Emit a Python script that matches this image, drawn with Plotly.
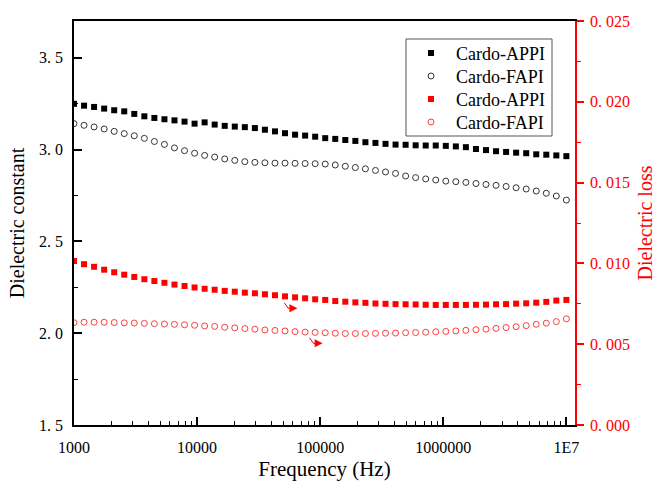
import plotly.graph_objects as go

# ---------------- data ----------------
freq = [1000, 1207, 1456, 1758, 2121, 2560, 3089, 3728, 4498, 5429,
        6551, 7906, 9541, 11514, 13895, 16768, 20236, 24421, 29471, 35565,
        42919, 51795, 62506, 75431, 91030, 109854, 132571, 159986, 193070, 232995,
        281177, 339322, 409492, 494171, 596362, 719686, 868511, 1048113, 1264855, 1526418,
        1842070, 2222996, 2682696, 3237458, 3906940, 4714866, 5689866, 6866488, 8286428, 10000000]

eps_appi = [3.249, 3.239, 3.232, 3.223, 3.214, 3.208, 3.194, 3.181, 3.172, 3.165,
            3.159, 3.152, 3.141, 3.148, 3.136, 3.129, 3.125, 3.122, 3.117, 3.108,
            3.099, 3.089, 3.081, 3.076, 3.070, 3.062, 3.058, 3.052, 3.047, 3.040,
            3.036, 3.031, 3.027, 3.026, 3.023, 3.022, 3.022, 3.020, 3.017, 3.013,
            3.003, 2.997, 2.991, 2.987, 2.983, 2.980, 2.974, 2.972, 2.968, 2.964]

eps_fapi = [3.141, 3.132, 3.123, 3.112, 3.099, 3.087, 3.075, 3.061, 3.044, 3.028,
            3.009, 2.994, 2.980, 2.968, 2.959, 2.949, 2.941, 2.934, 2.930, 2.928,
            2.926, 2.926, 2.925, 2.924, 2.923, 2.921, 2.916, 2.909, 2.902, 2.895,
            2.886, 2.878, 2.870, 2.856, 2.847, 2.840, 2.834, 2.828, 2.825, 2.821,
            2.815, 2.810, 2.805, 2.799, 2.792, 2.785, 2.774, 2.762, 2.747, 2.725]

loss_appi = [0.01015, 0.00995, 0.00979, 0.00961, 0.00945, 0.00930, 0.00916, 0.00902, 0.00891, 0.00880,
             0.00869, 0.00860, 0.00851, 0.00843, 0.00837, 0.00830, 0.00825, 0.00819, 0.00815, 0.00809,
             0.00803, 0.00796, 0.00790, 0.00784, 0.00778, 0.00774, 0.00767, 0.00763, 0.00759, 0.00756,
             0.00752, 0.00750, 0.00748, 0.00747, 0.00746, 0.00744, 0.00743, 0.00743, 0.00743, 0.00743,
             0.00744, 0.00745, 0.00747, 0.00748, 0.00751, 0.00753, 0.00757, 0.00762, 0.00770, 0.00774]

loss_fapi = [0.00633, 0.00636, 0.00636, 0.00636, 0.00634, 0.00632, 0.00631, 0.00629, 0.00627, 0.00625,
             0.00623, 0.00620, 0.00617, 0.00613, 0.00610, 0.00605, 0.00601, 0.00597, 0.00593, 0.00588,
             0.00585, 0.00582, 0.00578, 0.00575, 0.00573, 0.00571, 0.00568, 0.00566, 0.00566, 0.00566,
             0.00567, 0.00568, 0.00569, 0.00571, 0.00572, 0.00574, 0.00577, 0.00579, 0.00582, 0.00586,
             0.00590, 0.00593, 0.00598, 0.00603, 0.00608, 0.00615, 0.00623, 0.00630, 0.00640, 0.00657]

series_names = ["Cardo-APPI", "Cardo-FAPI", "Cardo-APPI", "Cardo-FAPI"]

x_tickvals = [1e3, 1e4, 1e5, 1e6, 1e7]
x_ticktext = ["1000", "10000", "100000", "1000000", "1E7"]
x_minor = [m * 10 ** d for d in range(3, 7) for m in range(2, 10)]
y_tickvals = [1.5, 2.0, 2.5, 3.0, 3.5]
y_ticktext = ["1.\u00a05", "2.\u00a00", "2.\u00a05", "3.\u00a00", "3.\u00a05"]
y2_tickvals = [0.0, 0.005, 0.010, 0.015, 0.020, 0.025]
y2_ticktext = ["0.\u00a0000", "0.\u00a0005", "0.\u00a0010", "0.\u00a0015", "0.\u00a0020", "0.\u00a0025"]

FONT = "Liberation Serif"
RED = "#ff0000"

# plot-area geometry (pixels) used for paper coordinates of legend pieces
L, R, T, B = 74, 575, 21, 425
PW, PH = R - L, B - T


def px_x(p):
    return (p - L) / PW


def px_y(p):
    return (B - p) / PH


legend_rows = [53.3, 76.3, 99.3, 122.3]

fig = go.Figure()
fig.add_trace(go.Scatter(x=freq, y=eps_appi, mode="markers", name=series_names[0],
                         marker=dict(symbol="square", size=6, color="black"),
                         yaxis="y", legend="legend"))
fig.add_trace(go.Scatter(x=freq, y=eps_fapi, mode="markers", name=series_names[1],
                         marker=dict(symbol="circle-open", size=6, color="#333333",
                                     line=dict(width=1)), yaxis="y", legend="legend2"))
fig.add_trace(go.Scatter(x=freq, y=loss_appi, mode="markers", name=series_names[2],
                         marker=dict(symbol="square", size=6, color=RED),
                         yaxis="y2", legend="legend3"))
fig.add_trace(go.Scatter(x=freq, y=loss_fapi, mode="markers", name=series_names[3],
                         marker=dict(symbol="circle-open", size=6, color="#ff3b3b",
                                     line=dict(width=1)), yaxis="y2", legend="legend4"))

# arrows pointing to the right axis: short diagonal stem + right-pointing head
for tipx, tipy in [(4.815, 2.136), (5.02, 1.945)]:
    fig.add_annotation(x=tipx, y=tipy, xref="x", yref="y", ax=-11, ay=0, showarrow=True,
                       arrowhead=2, arrowsize=1.6, arrowwidth=1, arrowcolor=RED, text="")
    fig.add_annotation(x=tipx - 0.075, y=tipy, xref="x", yref="y", ax=-5, ay=-7,
                       showarrow=True, arrowhead=0, arrowwidth=1, arrowcolor=RED, text="")

# legend frame
fig.add_shape(type="rect", xref="paper", yref="paper",
              x0=px_x(406), x1=px_x(552), y0=px_y(136), y1=px_y(39),
              line=dict(color="#555555", width=1))

leg_common = dict(xanchor="left", yanchor="middle", borderwidth=0,
                  bgcolor="rgba(255,255,255,0)", itemwidth=40,
                  font=dict(family=FONT, size=18, color="black"))

fig.update_layout(
    width=656, height=481,
    margin=dict(l=L, r=656 - R, t=T, b=481 - B, autoexpand=False),
    paper_bgcolor="white", plot_bgcolor="white",
    font=dict(family=FONT, color="black", size=16),
    showlegend=True,
    legend=dict(x=px_x(406), y=px_y(legend_rows[0]), **leg_common),
    legend2=dict(x=px_x(406), y=px_y(legend_rows[1]), **leg_common),
    legend3=dict(x=px_x(406), y=px_y(legend_rows[2]), **leg_common),
    legend4=dict(x=px_x(406), y=px_y(legend_rows[3]), **leg_common),
    xaxis=dict(type="log", range=[3, 7.07], tickmode="array", tickvals=x_tickvals,
               ticktext=x_ticktext, ticks="inside", ticklen=8, tickwidth=1.5,
               tickcolor="black", showline=True, linecolor="black", linewidth=1.5,
               mirror=True, showgrid=False, zeroline=False, automargin=False,
               tickfont=dict(family=FONT, size=16, color="black"),
               ticklabelstandoff=7,
               minor=dict(tickmode="array", tickvals=x_minor, ticks="inside",
                          ticklen=4, tickwidth=1, tickcolor="black", showgrid=False),
               title=dict(text="Frequency (Hz)", font=dict(family=FONT, size=21),
                          standoff=6)),
    yaxis=dict(range=[1.5, 3.7], tickmode="array", tickvals=y_tickvals,
               ticktext=y_ticktext, ticks="inside", ticklen=8, tickwidth=1.5,
               tickcolor="black", showline=True, linecolor="black", linewidth=1.5,
               showgrid=False, zeroline=False, automargin=False,
               tickfont=dict(family=FONT, size=16, color="black"),
               ticklabelstandoff=6,
               minor=dict(tickmode="array", tickvals=[1.75, 2.25, 2.75, 3.25],
                          ticks="inside", ticklen=4, tickwidth=1, tickcolor="black",
                          showgrid=False),
               title=dict(text="Dielectric constant", font=dict(family=FONT, size=20),
                          standoff=9)),
    yaxis2=dict(overlaying="y", side="right", range=[0, 0.025], tickmode="array",
                tickvals=y2_tickvals, ticktext=y2_ticktext, ticks="outside",
                ticklen=7, tickwidth=1.5, tickcolor=RED, showline=True,
                linecolor=RED, linewidth=1.5, showgrid=False, zeroline=False,
                automargin=False,
                tickfont=dict(family=FONT, size=16, color=RED),
                ticklabelstandoff=3,
                minor=dict(tickmode="array", tickvals=[0.0025, 0.0075, 0.0125, 0.0175, 0.0225],
                           ticks="outside", ticklen=4, tickwidth=1, tickcolor=RED,
                           showgrid=False),
                title=dict(text="Dielectric loss", font=dict(family=FONT, size=20, color=RED),
                           standoff=10)),
)

fig.write_html("out.html")
